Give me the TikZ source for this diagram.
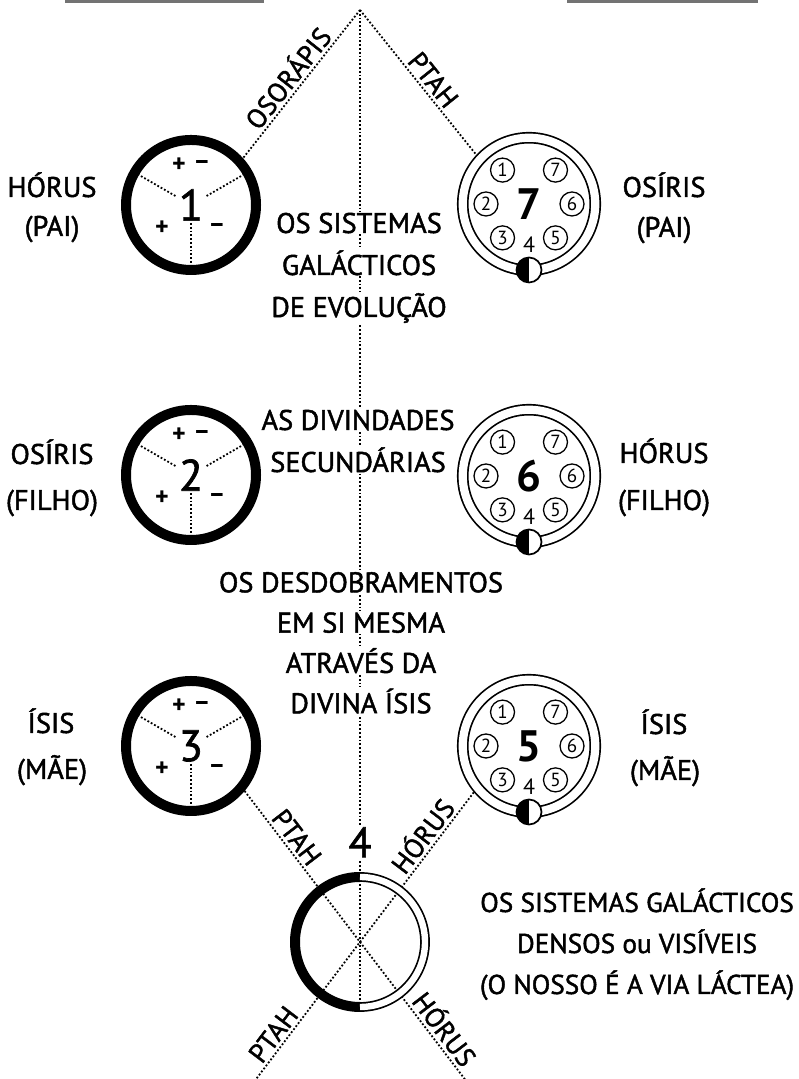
\documentclass[tikz,border=0pt]{standalone}
\usepackage{fontspec}
\setmainfont{PT Sans}
\newfontfamily\heavy{PT Sans}[FakeBold=1.6]
\usetikzlibrary{positioning}
\begin{document}
\begin{tikzpicture}[x=0.5pt, y=0.5pt]
\tikzstyle{thick_c}  = [circle, draw=black, line width=5pt, minimum size=65pt, inner sep=0pt, font=\heavy\fontsize{22}{22}\selectfont]
\tikzstyle{ring_c}   = [circle, draw=black, line width=0.85pt, double, double distance=4.1pt, minimum size=66.25pt, inner sep=0pt, outer sep=2.9pt, font=\fontsize{22}{22}\selectfont\bfseries]
\tikzstyle{half_c}   = [circle, minimum size=70pt, inner sep=0pt]
\tikzstyle{small_c}  = [circle, draw=black, line width=0.65pt, minimum size=12pt, inner sep=0pt, font=\fontsize{9.5}{9.5}\selectfont]
\tikzstyle{knob}     = [circle, draw=black, line width=0.85pt, fill=white, minimum size=12.5pt, inner sep=0pt, path picture={\fill [black] (path picture bounding box.north) rectangle (path picture bounding box.south west);}]
\tikzstyle{god_lbl}  = [anchor=base, inner sep=0.5pt, font=\heavy\fontsize{14.2}{17}\selectfont]
\tikzstyle{mid_text} = [god_lbl, fill=white]
\tikzstyle{dense_lbl}= [god_lbl, font=\heavy\fontsize{13.6}{17}\selectfont]
\tikzstyle{way_lbl}  = [sloped, above, inner sep=1.5pt, font=\heavy\fontsize{13.5}{15}\selectfont]
\tikzstyle{pm_sign}  = [inner sep=0pt, font=\fontsize{13}{13}\selectfont\bfseries]
\tikzstyle{four_lbl} = [inner sep=0pt, font=\fontsize{11}{11}\selectfont]
\tikzstyle{dotline}  = [densely dotted, line width=0.9pt]

\useasboundingbox (0,0) rectangle (798,1079);
\fill [black!55] (65,1076) rectangle (264,1081);
\fill [black!55] (567,1076) rectangle (758,1081);

\coordinate (apex) at (360,1069);
\node (c4) [half_c] at (360,137) {};
\draw [dotline] (apex) -- (c4.south);

\foreach \t [count=\i] in {OS SISTEMAS, GALÁCTICOS, DE EVOLUÇÃO}
  \node (evo\i) [mid_text] at (359,{888-42*\i}) {\t};
\foreach \t [count=\i] in {AS DIVINDADES, SECUNDÁRIAS}
  \node (sec\i) [mid_text] at (358,{691-42*\i}) {\t};
\foreach \t [count=\i] in {OS DESDOBRAMENTOS, EM SI MESMA, ATRAVÉS DA, DIVINA ÍSIS}
  \node (des\i) [mid_text] at (361,{527-40.3*\i}) {\t};
\foreach \t [count=\i] in {OS SISTEMAS GALÁCTICOS, DENSOS ou VISÍVEIS, (O NOSSO É A VIA LÁCTEA)}
  \node (den\i) [dense_lbl] at (637,{208-41*\i}) {\t};

\node (hor1) [god_lbl] at (52,882)  {HÓRUS};
\node (pai1) [god_lbl] at (52,843)  {(PAI)};
\node (osi2) [god_lbl] at (52,615)  {OSÍRIS};
\node (fil2) [god_lbl] at (52,569)  {(FILHO)};
\node (isi3) [god_lbl] at (51,346)  {ÍSIS};
\node (mae3) [god_lbl] at (52,300)  {(MÃE)};
\node (osi7) [god_lbl] at (664,882) {OSÍRIS};
\node (pai7) [god_lbl] at (664,842) {(PAI)};
\node (hor6) [god_lbl] at (664,616) {HÓRUS};
\node (fil6) [god_lbl] at (664,569) {(FILHO)};
\node (isi5) [god_lbl] at (664,345) {ÍSIS};
\node (mae5) [god_lbl] at (665,299) {(MÃE)};

\foreach \n/\y in {1/874, 2/604, 3/333} {
  \node (c\n) [thick_c] at (191,\y) {\n};
  \foreach \a in {30,150,270}
    \draw [dotline] (c\n) ++(\a:18) -- ++(\a:42);
  \foreach \dx/\dy/\s [count=\j] in {-12/40/+, 11/40/–, -29/-23/+, 26/-23/–}
    \path (c\n) ++(\dx,\dy) node (p\n\j) [pm_sign] {\s};
}

\foreach \n/\y in {7/875, 6/603, 5/333} {
  \node (c\n) [ring_c] at (529,\y) {\n};
  \foreach \k/\a in {1/128, 2/180, 3/232, 5/308, 6/0, 7/52}
    \path (c\n) ++(\a:43) node (s\n\k) [small_c] {\k};
  \path (c\n) ++(0,-41) node (f\n) [four_lbl] {4};
  \node (k\n) [knob] at ([yshift=-33pt]c\n.center) {};
}

\node (n4) [above=6pt of c4, fill=white, inner sep=1pt, font=\heavy\fontsize{21}{21}\selectfont] {4};

\coordinate (horus_end) at (480,-20);
\coordinate (ptah_end)  at (241,-20);

\draw [dotline] (apex) -- node [way_lbl, pos=.52] {OSORÁPIS} (c1.42);
\draw [dotline] (apex) -- node [way_lbl, pos=.54] {PTAH} (c7.137);
\draw [dotline] (c3.-40) -- node [way_lbl, pos=.36] {PTAH} (c4.center) -- node [way_lbl, pos=.61] {HÓRUS} (horus_end);
\draw [dotline] (c5.220) -- node [way_lbl, pos=.35] {HÓRUS} (c4.center) -- node [way_lbl, pos=.64] {PTAH} (ptah_end);

\draw [line width=5pt] (c4.center) ++(0,65) arc (90:270:32.5pt);
\draw [line width=0.85pt, double, double distance=3.2pt] (c4.center) ++(0,-65) arc (-90:90:32.5pt);
\end{tikzpicture}
\end{document}
